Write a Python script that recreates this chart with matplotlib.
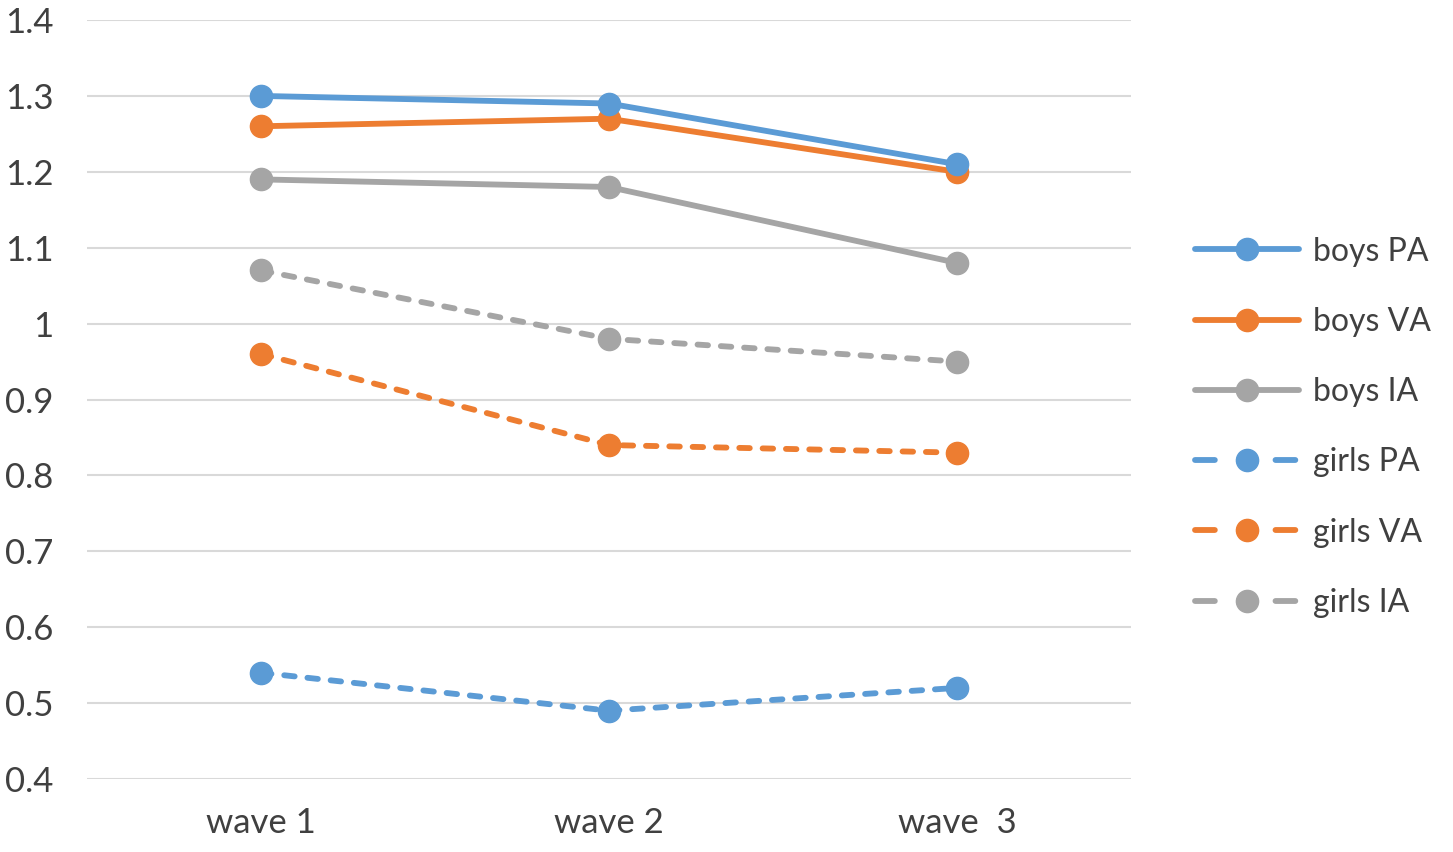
import matplotlib.pyplot as plt
from matplotlib.lines import Line2D

# data
waves = ['wave 1', 'wave 2', 'wave  3']
boys_pa = [1.30, 1.29, 1.21]
boys_va = [1.26, 1.27, 1.20]
boys_ia = [1.19, 1.18, 1.08]
girls_pa = [0.54, 0.49, 0.52]
girls_va = [0.96, 0.84, 0.83]
girls_ia = [1.07, 0.98, 0.95]
y_ticks = [0.4, 0.5, 0.6, 0.7, 0.8, 0.9, 1.0, 1.1, 1.2, 1.3, 1.4]
y_labels = ['0.4', '0.5', '0.6', '0.7', '0.8', '0.9', '1', '1.1', '1.2', '1.3', '1.4']

blue = '#5B9BD5'
orange = '#ED7D31'
gray = '#A5A5A5'

plt.rcParams['font.family'] = ['Lato', 'DejaVu Sans']

fig = plt.figure(figsize=(14.53, 8.52), dpi=100)
ax = fig.add_axes([0.0599, 0.0857, 0.7185, 0.8908])

x = list(range(len(waves)))
series = [
    ('boys PA', boys_pa, blue, '-'),
    ('boys VA', boys_va, orange, '-'),
    ('boys IA', boys_ia, gray, '-'),
    ('girls PA', girls_pa, blue, '--'),
    ('girls VA', girls_va, orange, '--'),
    ('girls IA', girls_ia, gray, '--'),
]
lw = 4.2
ms = 16
# draw in reverse so boys PA ends on top
for name, vals, col, ls in reversed(series):
    line, = ax.plot(x, vals, color=col, linewidth=lw, linestyle=ls,
                    marker='o', markersize=ms,
                    solid_capstyle='round', dash_capstyle='round')
    if ls == '--':
        line.set_dashes([1.8, 2.2])

ax.set_xlim(-0.5, 2.5)
ax.set_ylim(0.4, 1.4)
ax.set_yticks(y_ticks)
ax.set_yticklabels(y_labels)
ax.set_xticks(x)
ax.set_xticklabels(waves)
ax.tick_params(axis='both', length=0, labelsize=25, colors='#404040')
ax.tick_params(axis='y', pad=24)
ax.tick_params(axis='x', pad=20)
ax.grid(axis='y', color='#D9D9D9', linewidth=1.5)
ax.set_axisbelow(True)
for s in ax.spines.values():
    s.set_visible(False)

# legend proxies: the dashed ones show dash - marker - dash like the original
handles = []
for name, vals, col, ls in series:
    h = Line2D([], [], color=col, linewidth=lw, marker='o', markersize=ms,
               solid_capstyle='round', dash_capstyle='round')
    if ls == '--':
        h.set_dashes([3.4, 10.4])
    handles.append(h)
names = [s[0] for s in series]
fig.legend(handles, names, loc='center left',
           bbox_to_anchor=(0.8025, 0.4985), frameon=False, fontsize=23,
           handlelength=3.26, handletextpad=0.45, labelspacing=1.26,
           labelcolor='#404040')

fig.savefig('out.png', dpi=100)
